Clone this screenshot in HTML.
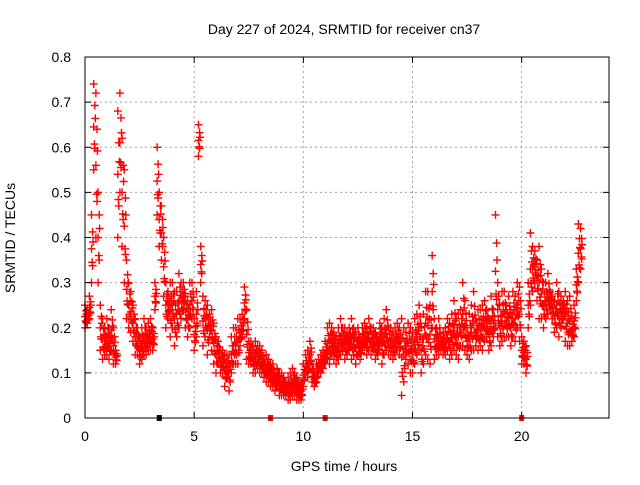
<!DOCTYPE html>
<html><head><meta charset="utf-8"><style>
body{margin:0;background:#fff;}
svg text{font-family:"Liberation Sans",sans-serif;fill:#000;}
</style></head><body>
<svg id="c" width="640" height="480" xmlns="http://www.w3.org/2000/svg">
<rect width="640" height="480" fill="#fff"/>
<text x="344" y="34" font-size="14" text-anchor="middle">Day 227 of 2024, SRMTID for receiver cn37</text>
<text x="344" y="471" font-size="14" text-anchor="middle">GPS time / hours</text>
<text transform="translate(15,238) rotate(-90)" font-size="14" text-anchor="middle">SRMTID / TECUs</text>
<g id="grid"></g><g id="marks"></g><g id="axes"></g>
</svg>
<script>
const xTicks=[0,5,10,15,20];
const yTicks=[0,0.1,0.2,0.3,0.4,0.5,0.6,0.7,0.8];
const yTickLabels=["0","0.1","0.2","0.3","0.4","0.5","0.6","0.7","0.8"];
const hiVals=[.25,.24,.27,.45,.74,.72,.5,.25,.22,.2,
.22,.2,.24,.2,.15,.68,.72,.62,.55,.35,
.3,.28,.25,.22,.2,.18,.2,.22,.2,.21,
.22,.2,.3,.6,.5,.47,.4,.3,.28,.3,
.3,.28,.28,.32,.3,.3,.27,.26,.3,.3,
.22,.28,.65,.38,.27,.26,.25,.23,.24,.21,
.18,.17,.15,.15,.14,.14,.14,.18,.2,.2,
.22,.22,.23,.29,.24,.17,.17,.16,.17,.16,
.16,.15,.13,.14,.13,.12,.12,.1,.11,.1,
.1,.09,.08,.09,.1,.11,.1,.09,.08,.08,
.12,.14,.15,.17,.12,.1,.12,.13,.14,.15,
.17,.2,.21,.2,.19,.18,.2,.22,.2,.2,
.19,.2,.22,.2,.19,.2,.18,.2,.21,.2,
.22,.2,.2,.19,.18,.21,.2,.22,.24,.2,
.2,.19,.2,.21,.2,.22,.2,.19,.21,.2,
.19,.22,.23,.25,.2,.23,.28,.28,.25,.36,
.22,.2,.22,.18,.19,.2,.22,.21,.23,.26,
.22,.23,.24,.3,.26,.2,.23,.25,.28,.22,
.24,.24,.25,.26,.24,.22,.27,.24,.45,.3,
.25,.28,.28,.25,.27,.24,.28,.27,.3,.29,
.18,.17,.16,.3,.41,.38,.37,.35,.38,.33,
.3,.3,.32,.28,.27,.26,.3,.28,.27,.26,
.28,.26,.27,.22,.25,.33,.43,.42];
const loVals=[.2,.21,.22,.3,.55,.4,.3,.15,.13,.14,
.14,.13,.15,.12,.12,.4,.5,.38,.3,.22,
.2,.19,.17,.14,.14,.12,.13,.14,.14,.15,
.15,.15,.24,.45,.38,.35,.27,.2,.22,.18,
.2,.16,.18,.2,.22,.24,.2,.18,.2,.22,
.15,.18,.58,.3,.16,.18,.14,.18,.15,.12,
.1,.12,.1,.1,.07,.09,.06,.1,.12,.12,
.12,.16,.18,.22,.13,.12,.12,.1,.1,.11,
.1,.1,.09,.08,.08,.07,.07,.06,.07,.05,
.05,.05,.05,.04,.04,.05,.05,.04,.04,.04,
.07,.09,.09,.11,.08,.07,.08,.1,.1,.11,
.12,.13,.12,.14,.13,.12,.13,.14,.15,.13,
.14,.15,.13,.14,.12,.14,.13,.15,.16,.14,
.15,.14,.15,.13,.14,.16,.12,.14,.15,.14,
.14,.13,.14,.15,.14,.05,.08,.13,.12,.1,
.1,.12,.14,.15,.1,.12,.14,.13,.12,.2,
.13,.14,.14,.15,.14,.14,.15,.13,.14,.15,
.14,.13,.16,.16,.15,.14,.13,.15,.15,.16,
.15,.16,.15,.17,.18,.15,.16,.18,.2,.18,
.16,.17,.18,.18,.18,.16,.18,.17,.2,.17,
.12,.12,.1,.2,.25,.28,.3,.26,.22,.22,
.2,.22,.23,.24,.22,.19,.2,.18,.2,.22,
.17,.16,.16,.17,.18,.26,.3,.33];
const gapTimes=[3.4,8.5,11,20];
const X0=85,X1=609,Y0=418,Y1=57;
const xs=t=>X0+t*(X1-X0)/24;
const ys=v=>Y0-v*(Y0-Y1)/0.8;
const NS="http://www.w3.org/2000/svg";
function mk(tag,attrs,parent){const e=document.createElementNS(NS,tag);for(const k in attrs)e.setAttribute(k,attrs[k]);parent.appendChild(e);return e;}
const grid=document.getElementById('grid'),marks=document.getElementById('marks'),axes=document.getElementById('axes');
xTicks.forEach(t=>{
 if(t>0){const l=mk('line',{x1:xs(t),x2:xs(t),y1:Y0,y2:Y1,stroke:'#a0a0a0','stroke-dasharray':'2,3'},grid);
 
 }
 mk('line',{x1:xs(t),x2:xs(t),y1:Y0,y2:Y0-6,stroke:'#000'},axes);
 mk('line',{x1:xs(t),x2:xs(t),y1:Y1,y2:Y1+6,stroke:'#000'},axes);
 const tx=mk('text',{x:xs(t),y:Y0+23,'font-size':14,'text-anchor':'middle'},axes);tx.textContent=t;
 
 
});
yTicks.forEach((v,i)=>{
 if(v>0&&v<0.8){const l=mk('line',{x1:X0,x2:X1,y1:ys(v),y2:ys(v),stroke:'#a0a0a0','stroke-dasharray':'2,3'},grid);
 
 }
 mk('line',{x1:X0,x2:X0+6,y1:ys(v),y2:ys(v),stroke:'#000'},axes);
 mk('line',{x1:X1,x2:X1-6,y1:ys(v),y2:ys(v),stroke:'#000'},axes);
 const tx=mk('text',{x:X0-14,y:ys(v)+5,'font-size':14,'text-anchor':'end'},axes);tx.textContent=yTickLabels[i];
 
 
});
const fr=mk('rect',{x:X0,y:Y1,width:X1-X0,height:Y0-Y1,fill:'none',stroke:'#000'},axes);


let d='';
function plus(x,y){d+=`M${(x-4).toFixed(1)} ${y.toFixed(1)}h8M${x.toFixed(1)} ${(y-4).toFixed(1)}v8`;}
hiVals.forEach((h,i)=>{
 const t=i*0.1,lo=loVals[i];
 for(let k=0;k<=4;k++){const v=lo+(h-lo)*k/4;plus(xs(t+(k%2)*0.05),ys(v));}
 plus(xs(t+0.03),ys(lo+(h-lo)*0.3));plus(xs(t+0.07),ys(lo+(h-lo)*0.6));
});
const p=mk('path',{d:d,stroke:'#ff0000','stroke-width':1.4,fill:'none'},marks);


gapTimes.forEach((t,i)=>{
 const r=mk('rect',{x:xs(t)-2.5,y:Y0-3,width:5,height:6,fill:i==0?'#000':'#ff0000'},marks);
 
 
});
</script>
</body></html>
